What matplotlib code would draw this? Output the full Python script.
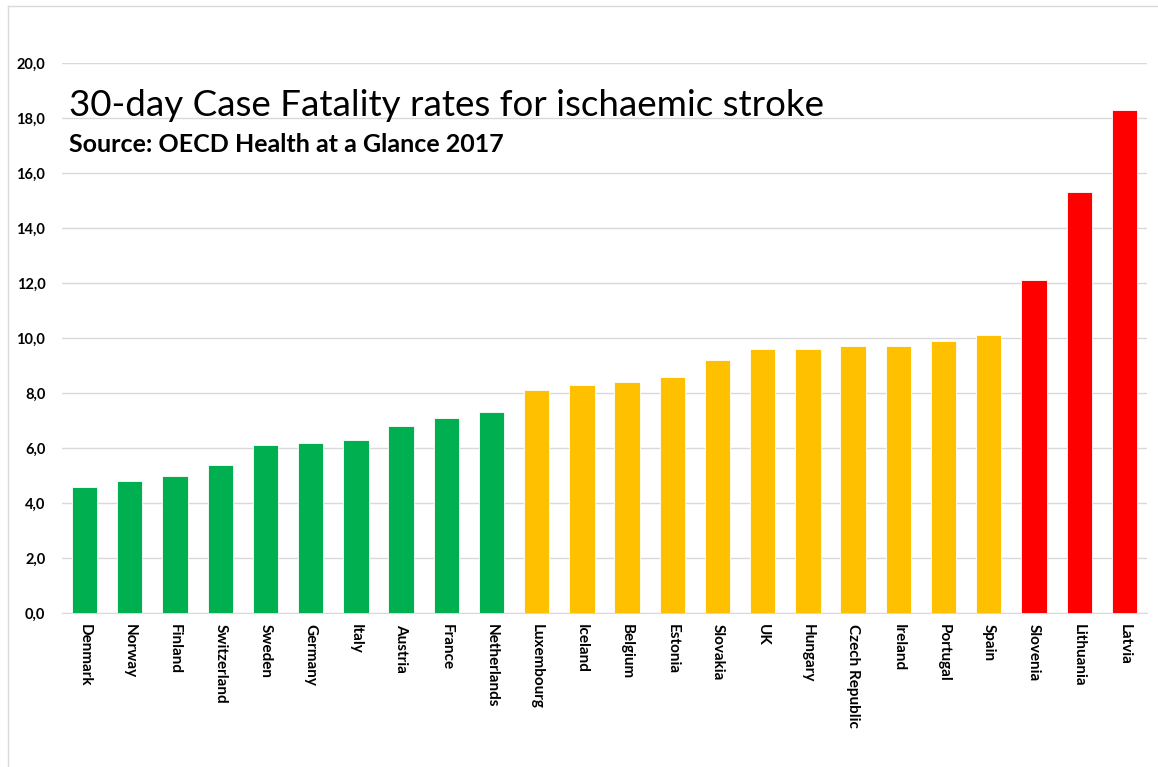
import numpy as np
import matplotlib.pyplot as plt
from matplotlib.lines import Line2D

countries = ['Denmark', 'Norway', 'Finland', 'Switzerland', 'Sweden', 'Germany',
             'Italy', 'Austria', 'France', 'Netherlands', 'Luxembourg', 'Iceland',
             'Belgium', 'Estonia', 'Slovakia', 'UK', 'Hungary', 'Czech Republic',
             'Ireland', 'Portugal', 'Spain', 'Slovenia', 'Lithuania', 'Latvia']
rates = [4.6, 4.8, 5.0, 5.4, 6.1, 6.2, 6.3, 6.8, 7.1, 7.3, 8.1, 8.3,
         8.4, 8.6, 9.2, 9.6, 9.6, 9.7, 9.7, 9.9, 10.1, 12.1, 15.3, 18.3]
groups = ['low'] * 10 + ['mid'] * 11 + ['high'] * 3
yticks = [0, 2, 4, 6, 8, 10, 12, 14, 16, 18, 20]

group_colors = {'low': '#00B050', 'mid': '#FFC000', 'high': '#FF0000'}
colors = [group_colors[g] for g in groups]

plt.rcParams['font.family'] = ['Lato', 'DejaVu Sans']

fig = plt.figure(figsize=(11.58, 7.67), dpi=100)
ax = fig.add_axes([62 / 1158, 1 - 613 / 767, (1147 - 62) / 1158, (613 - 63) / 767])

x = np.arange(len(countries))
ax.bar(x, rates, width=0.56, color=colors, edgecolor='white', linewidth=0.6, zorder=3)

ax.set_xlim(-0.5, len(countries) - 0.5)
ax.set_ylim(0, 20)
ax.set_yticks(yticks)
ax.set_yticklabels([f'{v:.1f}'.replace('.', ',') for v in yticks],
                   fontsize=10.5, fontweight='bold')
ax.set_xticks(x)
ax.set_xticklabels(countries, rotation=270, fontsize=11, fontweight='bold',
                   va='top', ha='center')
ax.tick_params(axis='both', length=0)
ax.tick_params(axis='y', pad=12)
ax.tick_params(axis='x', pad=8)

ax.grid(axis='y', color='#d9d9d9', linewidth=1, zorder=0)
for s in ['top', 'right', 'left']:
    ax.spines[s].set_visible(False)
ax.spines['bottom'].set_color('#d9d9d9')

fig.text(69 / 1158, 1 - 116 / 767, '30-day Case Fatality rates for ischaemic stroke',
         fontsize=26.5, color='black', va='baseline', ha='left')
fig.text(69 / 1158, 1 - 152 / 767, 'Source: OECD Health at a Glance 2017',
         fontsize=18, fontweight='bold', color='black', va='baseline', ha='left')

# light frame
fig.add_artist(Line2D([8 / 1158, 8 / 1158], [0, 1 - 6 / 767], color='#d9d9d9', lw=1))
fig.add_artist(Line2D([8 / 1158, 1], [1 - 6 / 767, 1 - 6 / 767], color='#d9d9d9', lw=1))

fig.savefig('out.png', dpi=100)
